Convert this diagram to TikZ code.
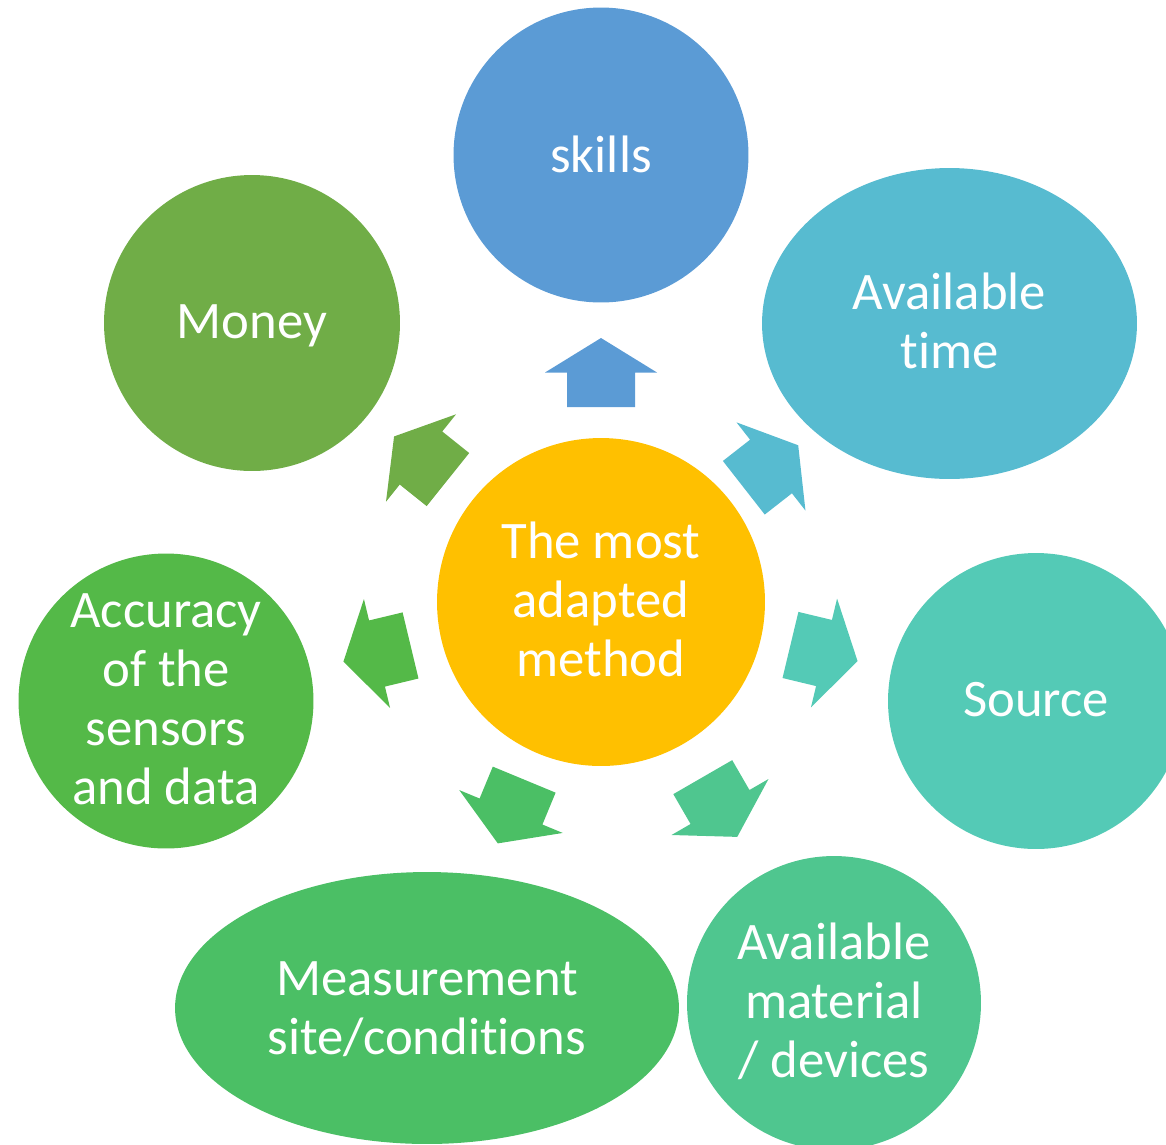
\documentclass[tikz,border=0pt]{standalone}
\usepackage{fontspec}
\setmainfont{Carlito}[Ligatures={NoCommon,NoContextual,NoRare}]
\usetikzlibrary{shapes.geometric}

% keeps "t" and "i" as separate glyphs
\newcommand{\splitti}{t\kern0pt i}

\definecolor{cCore}{HTML}{FFC000}
\definecolor{cSkills}{HTML}{5B9BD5}
\definecolor{cTime}{HTML}{57BBD0}
\definecolor{cSource}{HTML}{54CAB6}
\definecolor{cMaterial}{HTML}{4FC68F}
\definecolor{cSite}{HTML}{4BBF65}
\definecolor{cAccuracy}{HTML}{54B948}
\definecolor{cMoney}{HTML}{70AD47}

\tikzset{
  label text/.style={text=white, align=center, inner sep=0pt,
    font=\fontsize{30}{33.5}\selectfont},
  bubble/.style={circle, minimum size=#1, inner sep=0pt},
  oval/.style 2 args={ellipse, minimum width=#1, minimum height=#2, inner sep=0pt},
  % block arrow pointing along +x, centred on the origin
  radarrow/.pic={
    \fill[#1] (-34.5,-34) -- (0,-34) -- (0,-56) -- (34.5,0)
      -- (0,56) -- (0,34) -- (-34.5,34) -- cycle;
  }
}

\begin{document}
\begin{tikzpicture}[x=0.02cm, y=-0.02cm]
\useasboundingbox (0,0) rectangle (1166,1144);
\clip (0,0) rectangle (1166,1144);

% outer factors
\node[bubble=5.9cm, fill=cSkills] (skills) at (601,155) {};
\node[oval={7.5cm}{6.22cm}, fill=cTime] (time) at (949.5,323.5) {};
\node[bubble=5.92cm, fill=cSource] (source) at (1036,701) {};
\node[bubble=5.88cm, fill=cMaterial] (material) at (834,1003) {};
\node[oval={10.08cm}{5.44cm}, fill=cSite] (site) at (427,1008) {};
\node[bubble=5.9cm, fill=cAccuracy] (accuracy) at (166,701) {};
\node[bubble=5.92cm, fill=cMoney] (money) at (252,323) {};

% centre
\node[bubble=6.56cm, fill=cCore] (core) at (601,602) {};

% captions
\node[label text, yshift=0.02cm] (skillsText) at (skills) {skills};
\node[label text, yshift=0.05cm] (timeText) at (time) {Available\\\splitti me};
\node[label text, yshift=0.02cm] (sourceText) at (source) {Source};
\node[label text, yshift=0.04cm] (materialText) at (material) {Available\\material\\/ devices};
\node[label text, yshift=-0.02cm] (siteText) at (site) {Measurement\\site/condi\splitti ons};
\node[label text, yshift=0.03cm] (accuracyText) at (accuracy) {Accuracy\\of the\\sensors\\and data};
\node[label text, yshift=-0.06cm] (moneyText) at (money) {Money};
\node[label text, yshift=0.05cm] (coreText) at (core) {The most\\adapted\\method};

% radial arrows from the centre towards each factor
\pic[rotate=90]   (toSkills)   at (601,372.5) {radarrow=cSkills};
\pic[rotate=38]   (toTime)     at (771,466.5) {radarrow=cTime};
\pic[rotate=-13.5] (toSource)  at (824,653)   {radarrow=cSource};
\pic[rotate=-60]  (toMaterial) at (720,807)   {radarrow=cMaterial};
\pic[rotate=-112.5] (toSite)   at (511,811.5) {radarrow=cSite};
\pic[rotate=193.5] (toAccuracy) at (377,653.5) {radarrow=cAccuracy};
\pic[rotate=141.3] (toMoney)   at (421,458)   {radarrow=cMoney};
\end{tikzpicture}
\end{document}
